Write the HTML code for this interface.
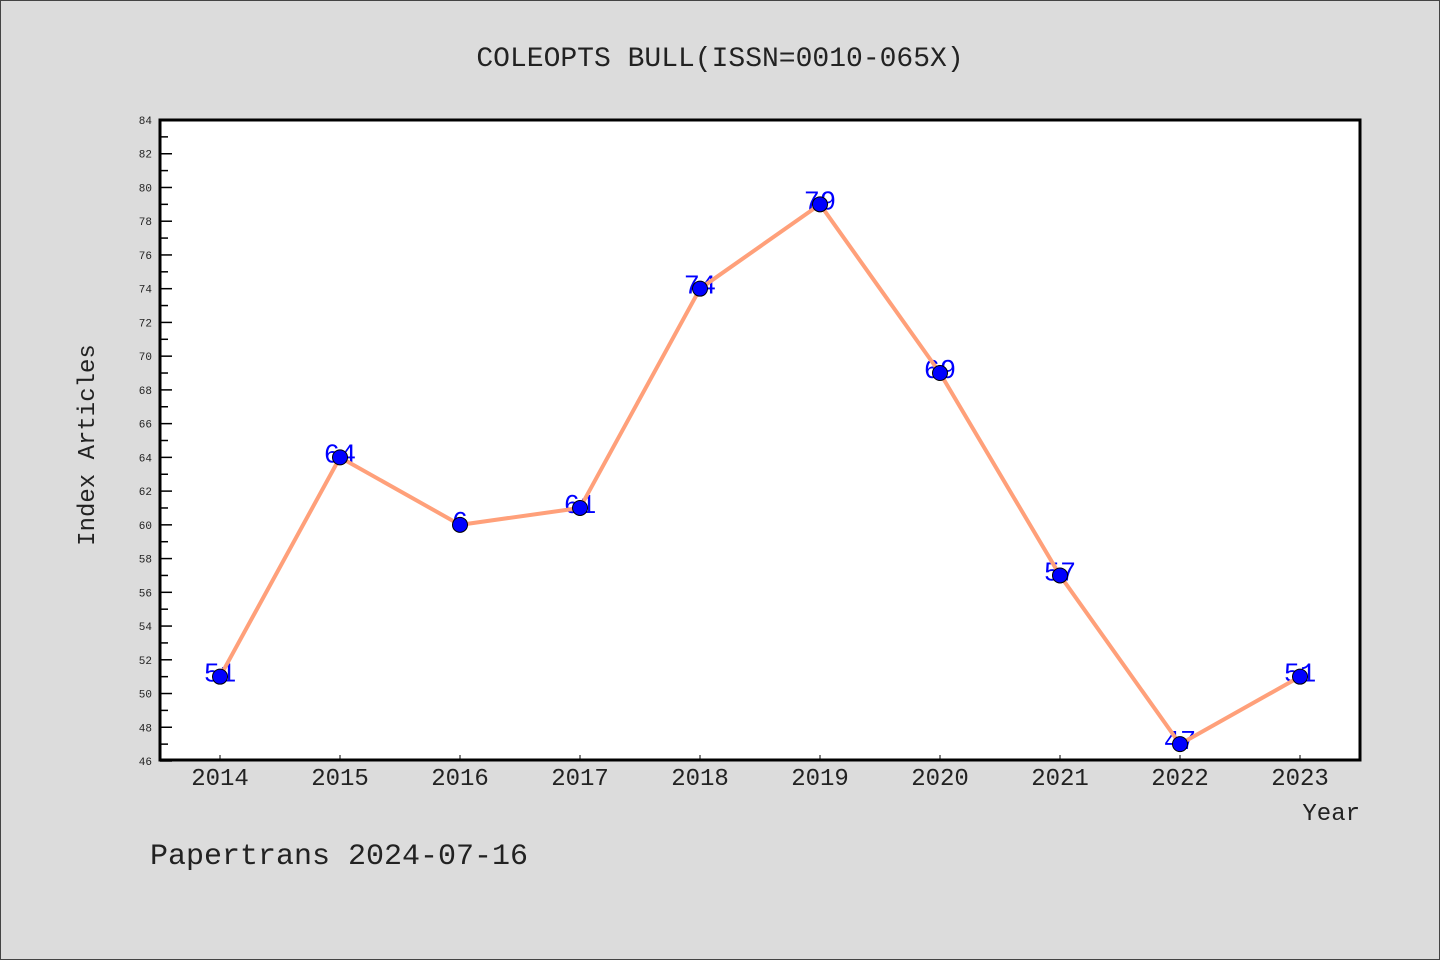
<!DOCTYPE html>
<html><head><meta charset="utf-8"><style>
html,body{margin:0;padding:0;background:#dcdcdc;}
svg{display:block;}
text{font-family:"Liberation Mono","DejaVu Sans Mono",monospace;}
</style></head><body>
<svg id="chart" width="1440" height="960" xmlns="http://www.w3.org/2000/svg">
<rect x="0.5" y="0.5" width="1439" height="959" fill="#dcdcdc" stroke="#444"/>
<text x="720" y="66" text-anchor="middle" font-size="28" fill="#222">COLEOPTS BULL(ISSN=0010-065X)</text>
<rect x="160" y="120" width="1200" height="640" fill="#fff"/>
<g id="yaxis"></g>
<g id="xaxis"></g>
<g id="labels"></g>
<g id="series"></g>
<rect x="160" y="120" width="1200" height="640" fill="none" stroke="#000" stroke-width="3"/>
<text x="94" y="445" text-anchor="middle" font-size="24" fill="#222" transform="rotate(-90 94 445)">Index Articles</text>
<text x="1360" y="820" text-anchor="end" font-size="24" fill="#222">Year</text>
<text x="150" y="864" font-size="30" fill="#222">Papertrans 2024-07-16</text>
</svg>
<script>
const years = ["2014","2015","2016","2017","2018","2019","2020","2021","2022","2023"];
const articles = [51,64,60,61,74,79,69,57,47,51];
const valueLabels = ["51","64","6","61","74","79","69","57","47","51"];
const yMin = 46, yMax = 84;
const NS = "http://www.w3.org/2000/svg";
const L=160,R=1360,T=120,B=761;
function xs(i){return 220 + i*120;}
function ys(v){return B - (v-yMin)/(yMax-yMin)*(B-T);}
function mk(tag, attrs, parent){const e=document.createElementNS(NS,tag);for(const k in attrs)e.setAttribute(k,attrs[k]);parent.appendChild(e);return e;}
const ya=document.getElementById('yaxis'), xa=document.getElementById('xaxis');
for(let v=yMin; v<=yMax; v++){
  const y=ys(v), major=(v%2===0);
  const t=mk('line',{x1:L,x2:L+(major?12:8),y1:y,y2:y,stroke:'#000','stroke-width':1.5},ya);
  
  
  if(major){
    const tx=mk('text',{x:152,y:y+4,'text-anchor':'end','font-size':11,fill:'#222'},ya);
    tx.textContent=v;
    
    
  }
}
years.forEach((yr,i)=>{
  const x=xs(i);
  const t=mk('line',{x1:x,x2:x,y1:B,y2:B-6,stroke:'#000','stroke-width':1},xa);
  
  
  const tx=mk('text',{x:x,y:785,'text-anchor':'middle','font-size':24,fill:'#222'},xa);
  tx.textContent=yr;
  
  
});
const lg=document.getElementById('labels');
articles.forEach((v,i)=>{
  const tx=mk('text',{x:xs(i),y:ys(v)+5,'text-anchor':'middle','font-size':27,fill:'#0000ff','font-family':'Liberation Sans, sans-serif'},lg);
  tx.textContent=valueLabels[i];
  
  
});
const sg=document.getElementById('series');
const line=mk('polyline',{points:articles.map((v,i)=>xs(i)+','+ys(v)).join(' '),fill:'none',stroke:'#ffa07a','stroke-width':4,'stroke-linejoin':'round'},sg);


articles.forEach((v,i)=>{
  const c=mk('circle',{cx:xs(i),cy:ys(v),r:7.5,fill:'#0000ff',stroke:'#000','stroke-width':1},sg);
  
  
});
</script>
</body></html>
